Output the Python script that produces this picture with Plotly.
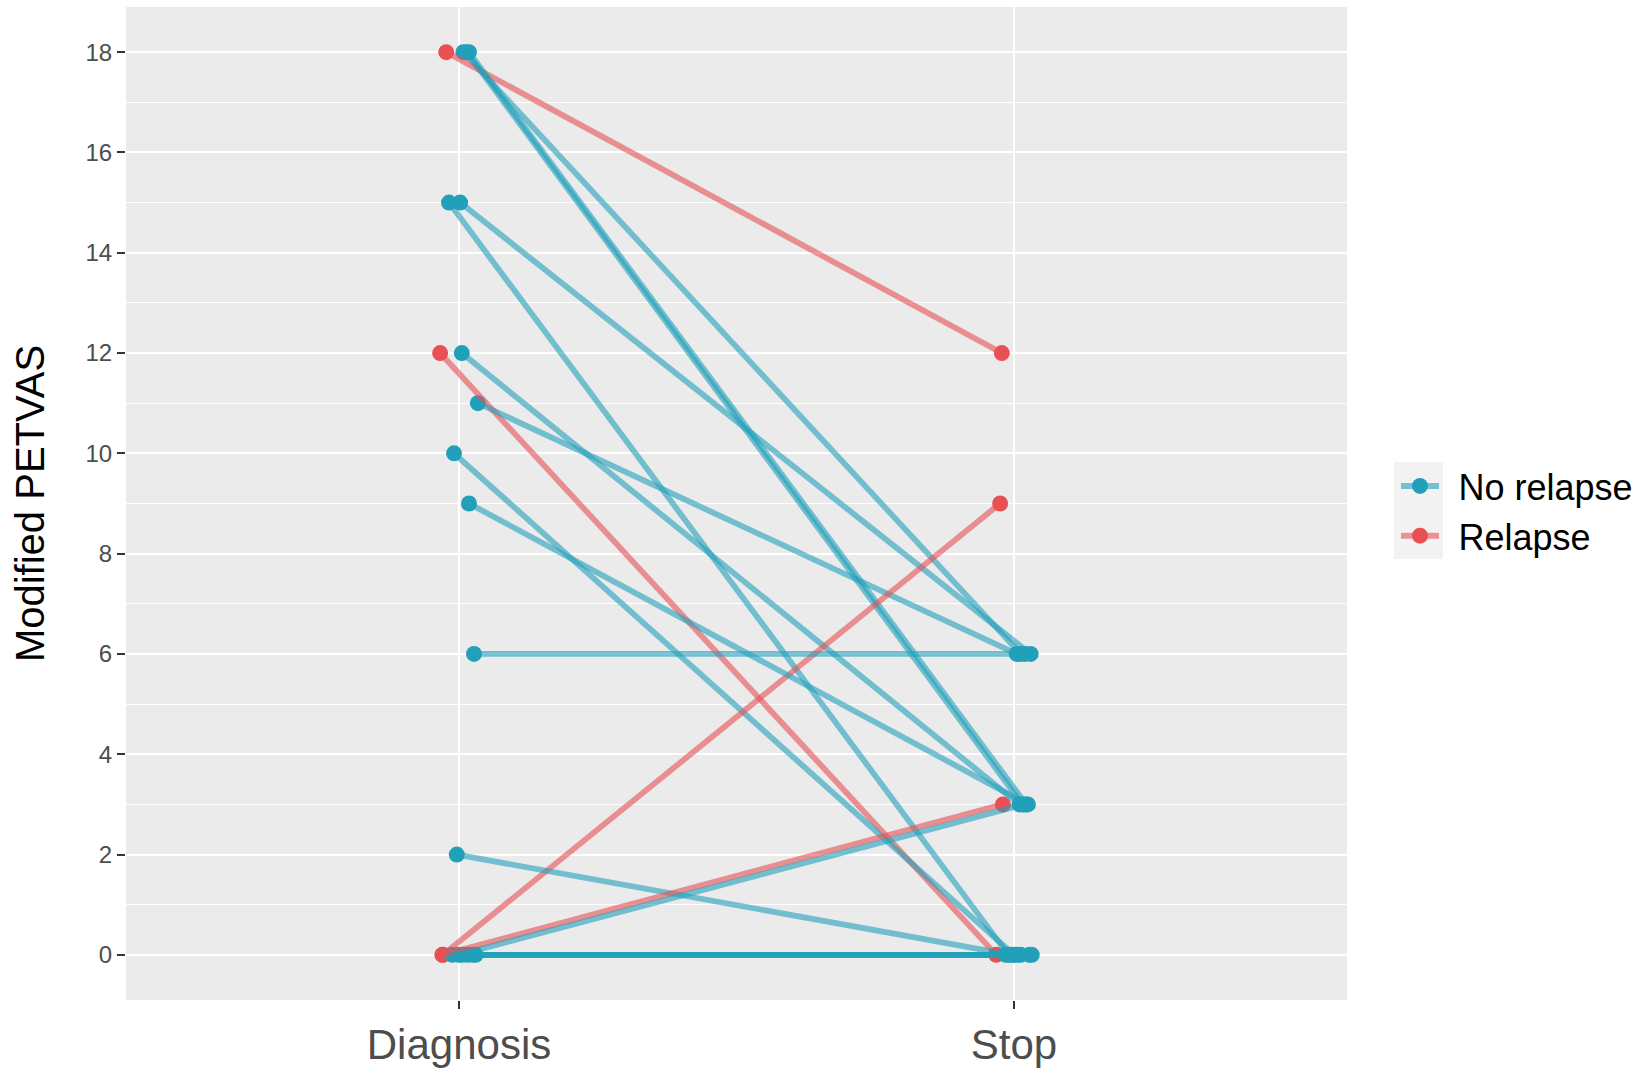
import plotly.graph_objects as go

# ---- data ----
categories = ["Diagnosis", "Stop"]
groups = ["Relapse", "Relapse", "Relapse", "Relapse",
          "No relapse", "No relapse", "No relapse", "No relapse", "No relapse",
          "No relapse", "No relapse", "No relapse", "No relapse", "No relapse",
          "No relapse", "No relapse", "No relapse", "No relapse", "No relapse",
          "No relapse", "No relapse"]
petvas_diagnosis = [18, 12, 0, 0,
                    18, 18, 18, 15, 15, 12, 11, 10, 9, 6, 2, 0, 0, 0, 0, 0, 0]
petvas_stop = [12, 0, 9, 3,
               6, 3, 3, 6, 0, 3, 6, 0, 3, 6, 0, 3, 0, 0, 0, 0, 0]
# horizontal jitter (in category units)
jitter_diagnosis = [-0.023, -0.034, -0.029, -0.030,
                    0.008, 0.014, 0.018, 0.002, -0.018, 0.005, 0.034, -0.009,
                    0.018, 0.027, -0.004, 0.000, -0.012, 0.005, 0.015, 0.025, 0.030]
jitter_stop = [-0.022, -0.032, -0.025, -0.020,
               0.012, 0.015, 0.022, 0.030, -0.010, 0.010, 0.005, 0.000,
               0.025, 0.020, -0.005, 0.018, -0.015, 0.005, 0.012, 0.028, 0.032]
y_ticks = [0, 2, 4, 6, 8, 10, 12, 14, 16, 18]
legend_order = ["No relapse", "Relapse"]

colors = {"No relapse": "#22A0BA", "Relapse": "#E85053"}
line_colors = {"No relapse": "rgba(34,160,186,0.6)", "Relapse": "rgba(232,80,83,0.6)"}

FONT = "Liberation Sans, Arial, Helvetica, sans-serif"

fig = go.Figure()

# points first (lines drawn over them, as in the reference)
for g in ["Relapse", "No relapse"]:
    xs, ys = [], []
    for i, gg in enumerate(groups):
        if gg != g:
            continue
        xs += [0 + jitter_diagnosis[i], 1 + jitter_stop[i]]
        ys += [petvas_diagnosis[i], petvas_stop[i]]
    fig.add_trace(go.Scatter(x=xs, y=ys, mode="markers",
                             marker=dict(size=16, color=colors[g], line=dict(width=0)),
                             showlegend=False, hoverinfo="skip"))

# one line per subject
order = [4, 0, 5, 6, 7, 1, 8, 9, 10, 11, 2, 12, 13, 14, 3, 15, 16, 17, 18, 19, 20]
for i in order:
    g = groups[i]
    fig.add_trace(go.Scatter(
        x=[0 + jitter_diagnosis[i], 1 + jitter_stop[i]],
        y=[petvas_diagnosis[i], petvas_stop[i]],
        mode="lines", line=dict(color=line_colors[g], width=5.8),
        showlegend=False, hoverinfo="skip"))

# legend entries
for g in legend_order:
    fig.add_trace(go.Scatter(x=[None], y=[None], mode="lines+markers",
                             name="\u2009\u2009" + g,
                             line=dict(color=line_colors[g], width=6),
                             marker=dict(size=16, color=colors[g])))

L, R, T, B = 126, 297, 7, 71
W, H = 1644, 1071
pw, ph = W - L - R, H - T - B

def px_x(x):
    return (x - L) / pw

def px_y(y):
    return (H - B - y) / ph

fig.add_shape(type="rect", xref="paper", yref="paper",
              x0=px_x(1394), x1=px_x(1443), y0=px_y(559), y1=px_y(462),
              fillcolor="#F2F2F2", line=dict(width=0), layer="below")

fig.update_layout(
    width=W, height=H,
    margin=dict(l=L, r=R, t=T, b=B, autoexpand=False),
    paper_bgcolor="white", plot_bgcolor="#EBEBEB",
    font=dict(family=FONT, color="black"),
    showlegend=True,
    legend=dict(x=px_x(1396), xanchor="left", y=px_y(511), yanchor="middle",
                bgcolor="rgba(0,0,0,0)", font=dict(size=36, color="black"),
                itemwidth=38, tracegroupgap=0),
    xaxis=dict(range=[-0.6, 1.6], tickvals=[0, 1], ticktext=categories,
               showgrid=True, gridcolor="white", gridwidth=2.2, zeroline=False,
               ticks="outside", ticklen=8, tickwidth=2, tickcolor="#333333",
               tickfont=dict(size=42, color="#4D4D4D"), showline=False,
               automargin=False, fixedrange=True),
    yaxis=dict(range=[-0.9, 18.9], tickvals=y_ticks, ticktext=[str(v) for v in y_ticks],
               showgrid=True, gridcolor="white", gridwidth=2.2, zeroline=False,
               ticks="outside", ticklen=8, tickwidth=2, tickcolor="#333333",
               tickfont=dict(size=24, color="#4D4D4D"), showline=False,
               minor=dict(dtick=1, tick0=0, showgrid=True, gridcolor="white",
                          gridwidth=1.1, ticks=""),
               title=dict(text="Modified PETVAS", font=dict(size=40, color="black"),
                          standoff=28),
               automargin=False, fixedrange=True),
)

fig.write_html("out.html")
